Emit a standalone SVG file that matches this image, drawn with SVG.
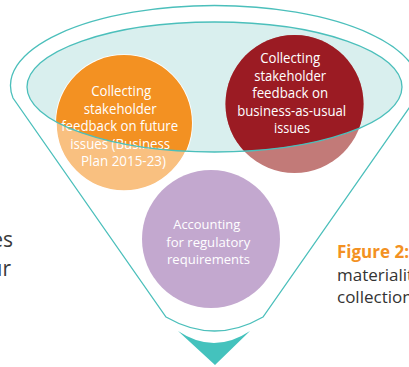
<svg xmlns="http://www.w3.org/2000/svg" width="409" height="367" viewBox="0 0 409 367">
  <style>
    .teal-line { fill: none; stroke: #4bbfbb; stroke-width: 1.3; }
    .node-text { font-family: "Open Sans", "Liberation Sans", sans-serif; font-size: 14px; fill: #ffffff; text-anchor: middle; }
    .body-text { font-family: "Open Sans", "Liberation Sans", sans-serif; font-size: 17px; fill: #333333; }
    .side-text { font-family: "Open Sans", "Liberation Sans", sans-serif; font-size: 21px; fill: #3a3a3a; text-anchor: end; }
    .ring { stroke: #ffffff; stroke-width: 1.5; }
  </style>
  <defs>
    <clipPath id="bowl-clip">
      <ellipse cx="214.5" cy="87" rx="187.5" ry="65"/>
    </clipPath>
  </defs>

  <rect width="409" height="367" fill="#ffffff"/>

  <!-- surrounding page text -->
  <g id="page-text">
    <text class="side-text" x="13" y="247">es</text>
    <text class="side-text" x="11" y="276">ur</text>
    <text x="337" y="258" font-family="'Open Sans', 'Liberation Sans', sans-serif" font-size="17" font-weight="bold" fill="#f39122">Figure 2:</text>
    <text class="body-text" x="337" y="281">materialit</text>
    <text class="body-text" x="337" y="303">collection</text>
  </g>

  <!-- funnel outline -->
  <g id="funnel">
    <path class="teal-line" d="M 13 98 A 204 80 0 1 1 416 98 L 263 317 Q 214.5 345 166 317 Z"/>
  </g>

  <!-- funnel mouth -->
  <g id="bowl">
    <ellipse cx="214.5" cy="87" rx="187.5" ry="65" fill="#d9efee"/>
  </g>

  <g id="node-future">
    <circle class="ring" cx="124" cy="123" r="68" fill="#f9c080"/>
    <circle cx="124" cy="123" r="68" fill="#f39122" clip-path="url(#bowl-clip)"/>
    <text class="node-text">
      <tspan x="123" y="96" textLength="60" lengthAdjust="spacingAndGlyphs">Collecting</tspan>
      <tspan x="122" y="113.5" textLength="73" lengthAdjust="spacingAndGlyphs">stakeholder</tspan>
      <tspan x="121.5" y="131" textLength="117" lengthAdjust="spacingAndGlyphs">feedback on future</tspan>
      <tspan x="122" y="148.5" textLength="100" lengthAdjust="spacingAndGlyphs">issues (Business</tspan>
      <tspan x="123.5" y="166" textLength="85" lengthAdjust="spacingAndGlyphs">Plan 2015-23)</tspan>
    </text>
  </g>

  <g id="node-bau">
    <circle cx="294.5" cy="104" r="69" fill="#c27a78"/>
    <circle cx="294.5" cy="104" r="69" fill="#9b1b23" clip-path="url(#bowl-clip)"/>
    <text class="node-text">
      <tspan x="292" y="63" textLength="60" lengthAdjust="spacingAndGlyphs">Collecting</tspan>
      <tspan x="292" y="81" textLength="72" lengthAdjust="spacingAndGlyphs">stakeholder</tspan>
      <tspan x="292" y="98" textLength="76" lengthAdjust="spacingAndGlyphs">feedback on</tspan>
      <tspan x="293.5" y="115.5" textLength="109" lengthAdjust="spacingAndGlyphs">business-as-usual</tspan>
      <tspan x="292" y="133" textLength="36" lengthAdjust="spacingAndGlyphs">issues</tspan>
    </text>
  </g>

  <g id="node-regulatory">
    <circle cx="211" cy="239" r="69" fill="#c3a8cf"/>
    <text class="node-text" style="font-size:13.5px">
      <tspan x="208.5" y="229" textLength="67" lengthAdjust="spacingAndGlyphs">Accounting</tspan>
      <tspan x="210" y="247" textLength="84" lengthAdjust="spacingAndGlyphs">for regulatory</tspan>
      <tspan x="208.5" y="264" textLength="83" lengthAdjust="spacingAndGlyphs">requirements</tspan>
    </text>
  </g>

  <!-- rim of the mouth drawn over the circles -->
  <g id="bowl-rim">
    <ellipse class="teal-line" cx="214.5" cy="87" rx="187.5" ry="65"/>
  </g>

  <!-- outlet arrow -->
  <g id="connectors">
    <path d="M 178 331 Q 214 355 250 331 L 215 365 Z" fill="#44c2bd"/>
  </g>
</svg>
